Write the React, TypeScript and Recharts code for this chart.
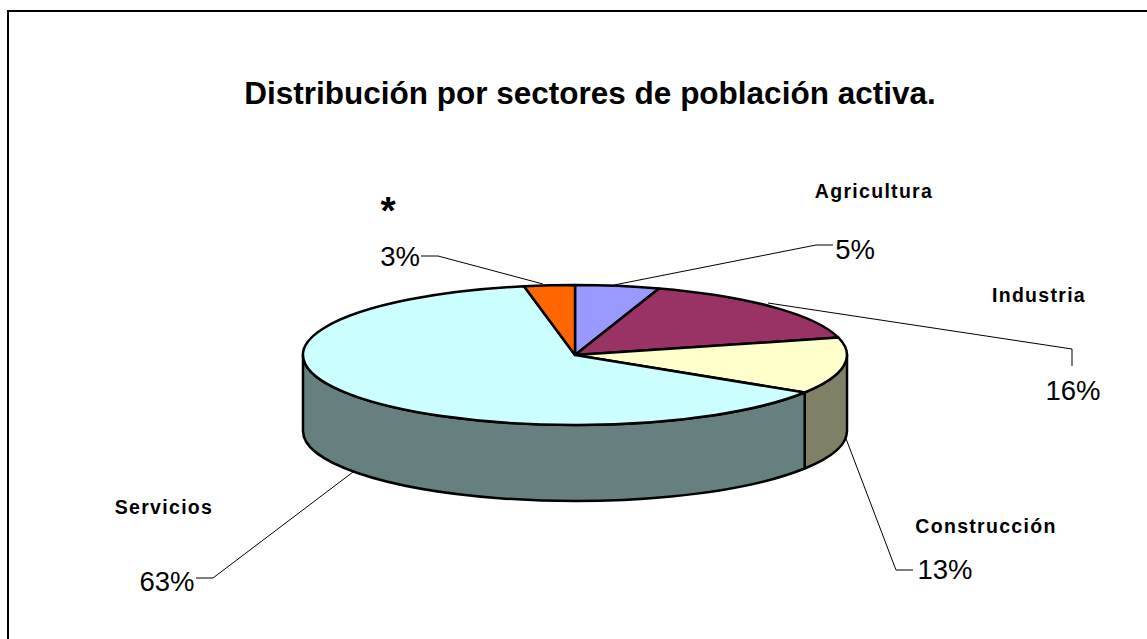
import * as React from "react";
import { Pie, PieChart } from "recharts";

const W = 1147;
const H = 639;

const CATEGORIES = ["Agricultura", "Industria", "Construcción", "Servicios", "*"];
const VALUES = [5, 16, 13, 63, 3];
const TOP_COLORS = ["#9999FF", "#993366", "#FFFFCC", "#CCFFFF", "#FF6600"];
const SIDE_COLORS = ["#66668C", "#662244", "#808066", "#668080", "#993D00"];

// name / percent text anchors and leader lines, same order as CATEGORIES
const NAME_POS = [
  [874, 198, 19.5],
  [1039, 302, 19.5],
  [986, 533, 19.5],
  [164, 514, 19.5],
  [388, 224, 39],
];
const PCT_POS = [
  [855, 259],
  [1073, 400],
  [945, 579],
  [167, 591],
  [400, 266],
];
const LEADERS = [
  "M614 285L816 245H833",
  "M768 303L1072 349V366",
  "M845 436L896 570H913",
  "M353 472L213 578H196",
  "M543 284L438 256H421",
];

const RATIO = 70 / 272;
const DEPTH = 76;

function pt(cx: number, cy: number, r: number, deg: number, dy = 0) {
  const a = (deg * Math.PI) / 180;
  return [cx + r * Math.cos(a), cy - r * RATIO * Math.sin(a) + dy];
}

// pie sector squashed to an ellipse, with the wall below the front part of the rim
function TiltedSector(props: any) {
  const { cx, cy, outerRadius: r, startAngle, endAngle, fill, index } = props;
  const ry = r * RATIO;
  const [sx, sy] = pt(cx, cy, r, startAngle);
  const [ex, ey] = pt(cx, cy, r, endAngle);
  const big = Math.abs(startAngle - endAngle) > 180 ? 1 : 0;
  const top = `M${cx} ${cy}L${sx} ${sy}A${r} ${ry} 0 ${big} 1 ${ex} ${ey}Z`;

  // the wall shows only on the front half of the rim, 0 to -180 here
  const from = Math.max(startAngle, -180);
  const to = Math.max(endAngle, -180);
  let wall: string | null = null;
  const a0 = Math.min(from, 0);
  if (a0 > to) {
    const [ax, ay] = pt(cx, cy, r, a0);
    const [bx, by] = pt(cx, cy, r, to);
    wall = `M${ax} ${ay}A${r} ${ry} 0 0 1 ${bx} ${by}L${bx} ${by + DEPTH}A${r} ${ry} 0 0 0 ${ax} ${ay + DEPTH}Z`;
  }
  return (
    <g>
      {wall && <path d={wall} fill={SIDE_COLORS[index]} stroke="#000" strokeWidth={2.5} strokeLinejoin="round" />}
      <path d={top} fill={fill} stroke="#000" strokeWidth={2.5} strokeLinejoin="round" />
    </g>
  );
}

function SliceLabel(props: any) {
  const { index, value } = props;
  const [nx, ny, size] = NAME_POS[index];
  const [px, py] = PCT_POS[index];
  return (
    <g>
      <path d={LEADERS[index]} fill="none" stroke="#000" strokeWidth={1} />
      <text x={nx} y={ny} textAnchor="middle" fontFamily="Liberation Sans" fontWeight={700} fontSize={size} letterSpacing={index === 4 ? 0 : 1.3} fill="#000">
        {CATEGORIES[index]}
      </text>
      <text x={px} y={py} textAnchor="middle" fontFamily="Liberation Sans" fontSize={27.5} fill="#000">
        {value}%
      </text>
    </g>
  );
}

const data = CATEGORIES.map((name, i) => ({ name, value: VALUES[i], fill: TOP_COLORS[i] }));

export default function App() {
  return (
    <div style={{ position: "absolute", left: 0, top: 0, width: W, height: H, background: "#fff", overflow: "hidden" }}>
      <div
        style={{
          position: "absolute",
          left: 7,
          top: 10,
          width: 1200,
          height: 700,
          border: "2px solid #000",
          boxSizing: "border-box",
        }}
      />
      <div
        style={{
          position: "absolute",
          left: 0,
          top: 75,
          width: 1180,
          textAlign: "center",
          fontFamily: "Liberation Sans",
          fontWeight: 700,
          fontSize: 31.5,
          color: "#000",
          whiteSpace: "nowrap",
        }}
      >
        Distribución por sectores de población activa.
      </div>
      <div style={{ position: "absolute", left: 0, top: 0 }}>
        <PieChart width={W} height={H} margin={{ top: 0, right: 0, bottom: 0, left: 0 }}>
          <Pie
            data={data}
            dataKey="value"
            nameKey="name"
            cx={575}
            cy={355}
            innerRadius={0}
            outerRadius={272}
            startAngle={90}
            endAngle={-270}
            shape={TiltedSector}
            label={SliceLabel}
            labelLine={false}
            isAnimationActive={false}
          />
        </PieChart>
      </div>
    </div>
  );
}
